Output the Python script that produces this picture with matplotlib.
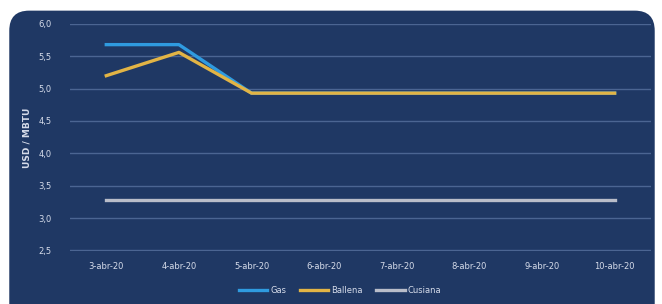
import matplotlib.pyplot as plt
from matplotlib.patches import FancyBboxPatch

dates = ["3-abr-20", "4-abr-20", "5-abr-20", "6-abr-20",
         "7-abr-20", "8-abr-20", "9-abr-20", "10-abr-20"]
gas = [5.68, 5.68, 4.93, 4.93, 4.93, 4.93, 4.93, 4.93]
ballena = [5.20, 5.56, 4.93, 4.93, 4.93, 4.93, 4.93, 4.93]
cusiana = [3.28, 3.28, 3.28, 3.28, 3.28, 3.28, 3.28, 3.28]

navy = "#1f3864"
grid_col = "#4b6592"
text_col = "#d6dcea"

fig = plt.figure(figsize=(6.62, 3.04), dpi=100)
fig.patch.set_facecolor("white")

# rounded dark panel behind the chart
bg = FancyBboxPatch((0.014, -0.1), 0.975, 1.065,
                    boxstyle="round,pad=0,rounding_size=0.03",
                    transform=fig.transFigure, facecolor=navy,
                    edgecolor="none", zorder=-10, mutation_aspect=2.2)
fig.patches.append(bg)

ax = fig.add_axes([0.1057, 0.1743, 0.8776, 0.747])
ax.set_zorder(5)
ax.set_facecolor("none")

x = list(range(len(dates)))
ax.plot(x, gas, color="#2f9be0", lw=2.4, label="Gas", zorder=3)
ax.plot(x, ballena, color="#e2b445", lw=2.4, label="Ballena", zorder=4)
ax.plot(x, cusiana, color="#b9bdc9", lw=2.4, label="Cusiana", zorder=3)

ax.set_xlim(-0.5, len(dates) - 0.5)
ax.set_ylim(2.49, 6.0)
ax.set_yticks([2.5, 3.0, 3.5, 4.0, 4.5, 5.0, 5.5, 6.0])
ax.set_yticklabels([f"{v:.1f}".replace(".", ",") for v in ax.get_yticks()])
ax.set_xticks(x)
ax.set_xticklabels(dates)

ax.grid(axis="y", color=grid_col, lw=1.0)
ax.set_axisbelow(True)
for s in ax.spines.values():
    s.set_visible(False)
ax.tick_params(length=0, colors=text_col, labelsize=6)
ax.tick_params(axis="y", pad=13)
ax.tick_params(axis="x", pad=8)
ax.set_ylabel("USD / MBTU", color=text_col, fontsize=6.5, fontweight="bold")
ax.yaxis.set_label_coords(-0.066, 0.5)

leg = ax.legend(loc="upper center", bbox_to_anchor=(0.465, -0.12), ncol=3,
                frameon=False, fontsize=6, handlelength=3.4, columnspacing=1.6,
                handletextpad=0.4)
for t in leg.get_texts():
    t.set_color(text_col)

fig.savefig("out.png", dpi=100, facecolor="white")
